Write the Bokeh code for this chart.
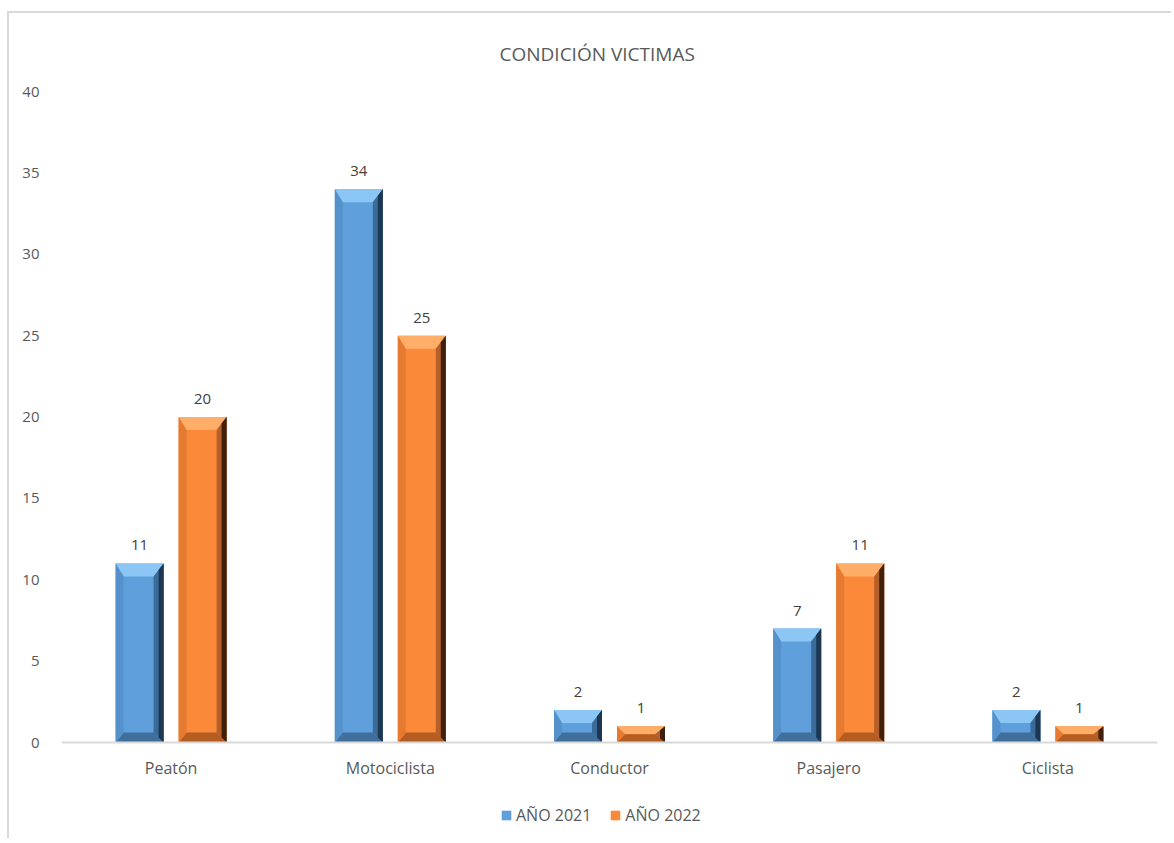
from bokeh.plotting import figure
from bokeh.models import ColumnDataSource, FixedTicker, LabelSet, Legend, LegendItem, Span
from bokeh.embed import file_html
from bokeh.resources import INLINE
from bokeh.core.properties import value

categories = ["Peatón", "Motociclista", "Conductor", "Pasajero", "Ciclista"]
series_names = ["AÑO 2021", "AÑO 2022"]
values_2021 = [11, 34, 2, 7, 2]
values_2022 = [20, 25, 1, 11, 1]
y_ticks = [0, 5, 10, 15, 20, 25, 30, 35, 40]

FONT = "Open Sans"
GRAY = "#595959"

FW, PLOT_H, EXTRA = 1096, 651, 96
ncat = len(categories)
xs_px = FW / ncat
ys_px = PLOT_H / 40.0
y_start = -EXTRA / ys_px

p = figure(frame_width=FW, frame_height=PLOT_H + EXTRA, x_range=(0, ncat), y_range=(y_start, 40),
           output_backend="svg", toolbar_location=None,
           min_border_left=52, min_border_right=14, min_border_top=78, min_border_bottom=0)
p.styles = {"margin-left": "7px", "margin-top": "11px",
            "border-left": "2px solid #d9d9d9", "border-top": "2px solid #d9d9d9"}
p.outline_line_color = None
p.xgrid.visible = False
p.ygrid.visible = False
p.xaxis.visible = False

# category axis line at zero
p.add_layout(Span(location=0, dimension="width", line_color="#d9d9d9", line_width=2))

bar_w = 48 / xs_px
off = 31.5 / xs_px

styles = [
    dict(main="#5fa0dc", top="#8cc6f4", left="#5592cc", r1="#3b6c99", r2="#1d3652", bottom="#406f9b"),
    dict(main="#fa893a", top="#ffae6a", left="#e57a31", r1="#b5602a", r2="#3f200c", bottom="#b45c22"),
]

legend_items = []
for si, (vals, st, sign) in enumerate(zip([values_2021, values_2022], styles, [-1, 1])):
    centers = [i + 0.5 + sign * off for i in range(ncat)]
    x0 = [c - bar_w / 2 for c in centers]
    x1 = [c + bar_w / 2 for c in centers]
    src = ColumnDataSource(dict(x=centers, left=x0, right=x1, top=vals,
                                lbl=[str(v) for v in vals]))
    r = p.quad(left="left", right="right", bottom=0, top="top", source=src,
               fill_color=st["main"], line_color=None)
    legend_items.append(LegendItem(label=series_names[si], renderers=[r]))
    bl, br, br2 = 8 / xs_px, 10 / xs_px, 5 / xs_px
    tx, ty, bx, by_, lx, ly, rx, ry, r2x, r2y = [], [], [], [], [], [], [], [], [], []
    for a, b, v in zip(x0, x1, vals):
        bt = min(13 / ys_px, v / 2)
        bb = min(10 / ys_px, v / 2)
        tx.append([a, b, b - br, a + bl]); ty.append([v, v, v - bt, v - bt])
        bx.append([a, b, b - br, a + bl]); by_.append([0, 0, bb, bb])
        lx.append([a, a, a + bl, a + bl]); ly.append([0, v, v - bt, bb])
        rx.append([b, b, b - br, b - br]); ry.append([0, v, v - bt, bb])
        r2x.append([b, b, b - br2, b - br2]); r2y.append([0, v, v - bt / 2, bb / 2])
    p.patches(tx, ty, fill_color=st["top"], line_color=None)
    p.patches(bx, by_, fill_color=st["bottom"], line_color=None)
    p.patches(lx, ly, fill_color=st["left"], line_color=None)
    p.patches(rx, ry, fill_color=st["r1"], line_color=None)
    p.patches(r2x, r2y, fill_color=st["r2"], line_color=None)
    p.add_layout(LabelSet(x="x", y="top", text="lbl", source=src, y_offset=13,
                          text_align="center", text_baseline="bottom",
                          text_font=value(FONT), text_font_size="15px", text_color="#404040"))

# category labels
cat_src = ColumnDataSource(dict(x=[i + 0.5 for i in range(ncat)], y=[0] * ncat, t=categories))
p.add_layout(LabelSet(x="x", y="y", text="t", source=cat_src, y_offset=-25,
                      text_align="center", text_baseline="middle",
                      text_font=value(FONT), text_font_size="16px", text_color=GRAY))

p.yaxis.ticker = FixedTicker(ticks=y_ticks)
p.yaxis.axis_line_color = None
p.yaxis.major_tick_line_color = None
p.yaxis.minor_tick_line_color = None
p.yaxis.major_label_standoff = 16
p.yaxis.major_label_text_font_size = "15px"
p.yaxis.major_label_text_font = FONT
p.yaxis.major_label_text_color = GRAY

p.title.text = "CONDICIÓN VICTIMAS"
p.title.align = "left"
p.title.offset = 438
p.title.text_font = FONT
p.title.text_font_size = "19px"
p.title.text_font_style = "normal"
p.title.text_color = GRAY
p.title.standoff = 49

legend = Legend(items=legend_items, orientation="horizontal", location=(439, 12),
                border_line_color=None, background_fill_alpha=0,
                label_text_font=FONT, label_text_font_size="16px", label_text_color=GRAY,
                glyph_width=12, glyph_height=12, spacing=18, label_standoff=4,
                padding=0, margin=0)
p.add_layout(legend, "center")

open("out.html", "w").write(file_html(p, INLINE))
